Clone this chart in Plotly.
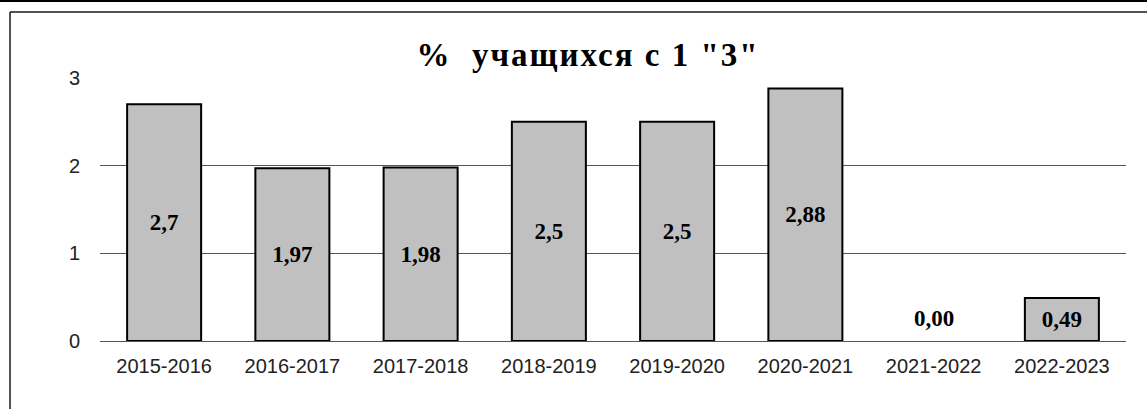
import plotly.graph_objects as go

categories = ["2015-2016", "2016-2017", "2017-2018", "2018-2019",
              "2019-2020", "2020-2021", "2021-2022", "2022-2023"]
values = [2.7, 1.97, 1.98, 2.5, 2.5, 2.88, 0.0, 0.49]
value_labels = ["2,7", "1,97", "1,98", "2,5", "2,5", "2,88", "0,00", "0,49"]
y_ticks = [0, 1, 2, 3]
title_text = '%  учащихся с 1 "3"'

W, H = 1147, 409
L, R, T, B = 100, 21, 78, 68
PW, PH = W - L - R, H - T - B


def px_x(px):
    return (px - L) / PW


def px_y(py):
    return (H - B - py) / PH


bar_text = [lab if v > 0 else "" for lab, v in zip(value_labels, values)]
line_widths = [2 if v > 0 else 0 for v in values]

fig = go.Figure()
fig.add_trace(go.Bar(
    x=categories, y=values,
    marker=dict(color="#c0c0c0", line=dict(color="#000000", width=line_widths)),
    text=bar_text, textposition="inside", insidetextanchor="middle",
    textangle=0, constraintext="none",
    textfont=dict(family="Liberation Serif", size=23, color="#000000", weight="bold"),
    hoverinfo="skip",
))

annotations = []
for c, v, lab in zip(categories, values, value_labels):
    if v == 0:
        annotations.append(dict(
            x=c, y=v, xref="x", yref="y", text="<b>" + lab + "</b>",
            showarrow=False, yanchor="middle", yshift=23,
            font=dict(family="Liberation Serif", size=23, color="#000000"),
        ))

shapes = [
    dict(type="line", xref="paper", yref="paper", x0=px_x(0), x1=px_x(W),
         y0=px_y(1), y1=px_y(1), line=dict(color="#000000", width=2)),
    dict(type="line", xref="paper", yref="paper", x0=px_x(10), x1=px_x(W),
         y0=px_y(12), y1=px_y(12), line=dict(color="#1a1a1a", width=1.5)),
    dict(type="line", xref="paper", yref="paper", x0=px_x(10), x1=px_x(10),
         y0=px_y(12), y1=px_y(H), line=dict(color="#1a1a1a", width=1.5)),
]

fig.update_layout(
    width=W, height=H,
    margin=dict(l=L, r=R, t=T, b=B, pad=0),
    paper_bgcolor="#ffffff", plot_bgcolor="#ffffff",
    bargap=0.423,
    showlegend=False,
    title=dict(
        text='<span style="letter-spacing:2px">' + title_text + '</span>',
        x=px_x(588), xref="paper", xanchor="center",
        y=1 - 54 / H, yref="container", yanchor="middle",
        font=dict(family="Liberation Serif", size=33, color="#000000", weight="bold"),
    ),
    xaxis=dict(
        showgrid=False, showline=False, zeroline=False, ticks="",
        tickfont=dict(family="Liberation Sans", size=20, color="#222222"),
        ticklabelstandoff=11,
    ),
    yaxis=dict(
        range=[0, 3], tickvals=y_ticks, showgrid=True, gridcolor="#555555",
        gridwidth=1, zeroline=True, zerolinecolor="#555555", zerolinewidth=1,
        showline=False, ticks="",
        tickfont=dict(family="Liberation Sans", size=20, color="#222222"),
        ticklabelstandoff=19,
    ),
    shapes=shapes,
    annotations=annotations,
)

fig.write_html("out.html", config={"displayModeBar": False},
               post_script="document.body.style.margin='0';")
